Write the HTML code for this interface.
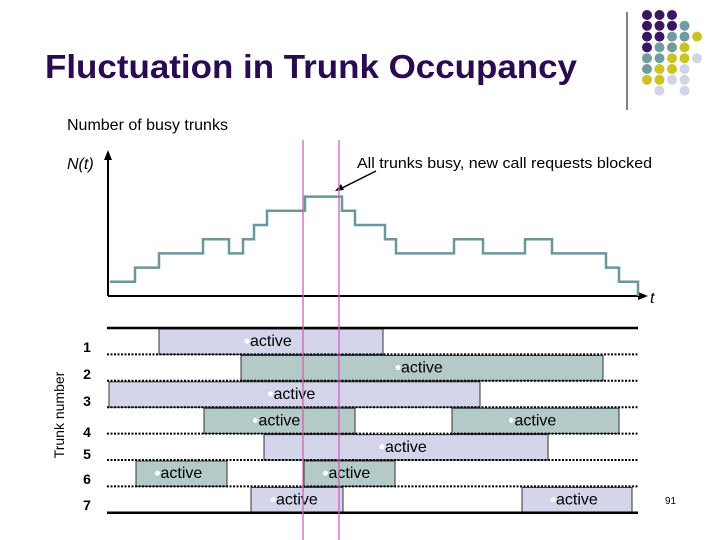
<!DOCTYPE html>
<html><head><meta charset="utf-8"><style>
html,body{margin:0;padding:0;background:#fff}
svg{display:block;font-family:"Liberation Sans",Arial,sans-serif}
</style></head><body>
<svg id="chart" width="720" height="540" viewBox="0 0 720 540">
<text x="45" y="78" font-size="33" font-weight="bold" fill="#2a0a50" textLength="532" lengthAdjust="spacingAndGlyphs">Fluctuation in Trunk Occupancy</text>
<line x1="627" y1="12" x2="627" y2="110" stroke="#000" stroke-width="1"/>
<g id="dots"></g>
<text x="67" y="130" font-size="16" fill="#000">Number of busy trunks</text>
<text x="67" y="169" font-size="16" font-style="italic" fill="#000">N(t)</text>
<text x="357" y="168" font-size="15" fill="#000" textLength="295" lengthAdjust="spacingAndGlyphs">All trunks busy, new call requests blocked</text>
<line x1="376" y1="171" x2="340" y2="189" stroke="#000" stroke-width="1.5"/>
<polygon points="335,191 341,184 344,190" fill="#000"/>
<g id="plot"></g>
<g id="trunks"></g>
<text transform="translate(64,415) rotate(-90)" font-size="14" text-anchor="middle" fill="#000">Trunk number</text>
<text x="665" y="504" font-size="10" fill="#000">91</text>
</svg>
<script>
const stepTimes = [110,135,159,203,229,243,254,267,305,342,355,385,396,454,483,525,552,606,619,638];
const stepLevels = [1,2,3,4,3,4,5,6,7,6,5,4,3,4,3,4,3,2,1,0];
const trunkIds = [1,2,3,4,5,6,7];
const callStarts = [[159],[241],[109],[204,452],[264],[136,304],[251,522]];
const callEnds = [[383],[603],[480],[355,619],[548],[227,395],[343,632]];
const blockedWindow = [303,339];

const NS='http://www.w3.org/2000/svg';
function mk(tag,attrs,parent){const e=document.createElementNS(NS,tag);for(const k in attrs)e.setAttribute(k,attrs[k]);parent.appendChild(e);return e;}
const yN = n => 296 - n*14.2;
const rowTop = i => 328 + i*26.4;
const rowH = 26.4;
const labelCenters = [347,374,401,432,454,479,505];

const P='#3a1560',T='#6f9c9e',Y='#c9c422',L='#d2d3e6';
const dotGrid=[[P,P,P,null,null],[P,P,P,T,null],[P,P,T,T,Y],[P,T,T,Y,null],[T,T,Y,Y,L],[T,Y,Y,L,null],[Y,Y,L,L,null],[null,L,null,L,null]];
const dg=document.getElementById('dots');
dotGrid.forEach((row,r)=>row.forEach((c,ci)=>{if(!c)return;
 const d=mk('circle',{cx:647+ci*12.5,cy:15+r*10.8,r:5,fill:c},dg);
 
 
}));

const plot=document.getElementById('plot');
let ax=mk('line',{x1:108,y1:296,x2:640,y2:296,stroke:'#000','stroke-width':2},plot);


let ah=mk('polygon',{points:'648,296 638,292 638,300',fill:'#000'},plot);


let tl=mk('text',{x:650,y:303,'font-size':16,'font-style':'italic'},plot);tl.textContent='t';


let ay=mk('line',{x1:108,y1:296,x2:108,y2:158,stroke:'#000','stroke-width':2},plot);


let ayh=mk('polygon',{points:'108,150 104,160 112,160',fill:'#000'},plot);


let d='';
for(let i=0;i<stepTimes.length;i++){
 const x=stepTimes[i], y=yN(stepLevels[i]);
 if(i===0) d+='M'+x+','+y; else d+=' H'+x+' V'+y;
}
let line=mk('path',{d:d,fill:'none',stroke:'#6a9898','stroke-width':2.5},plot);



const tg=document.getElementById('trunks');
trunkIds.forEach((id,i)=>{
 callStarts[i].forEach((s,j)=>{
  const e=callEnds[i][j];
  const r=mk('rect',{x:s,y:rowTop(i)+1,width:e-s,height:rowH-1,fill:(i%2===0)?'#d4d4ea':'#b3cac8',stroke:'#333','stroke-width':1},tg);
  
  
  const cx=(s+e)/2;
  const b=mk('circle',{cx:cx-24,cy:rowTop(i)+rowH/2,r:2.5,fill:'#fff'},tg);
  
  
  const t=mk('text',{x:cx-21,y:rowTop(i)+rowH/2+5,'font-size':16,fill:'#000'},tg);
  t.textContent='active';
  
  
 });
 const lab=mk('text',{x:87,y:labelCenters[i]+5,'font-size':14,'font-weight':'bold','text-anchor':'middle'},tg);
 lab.textContent=id;
 
 
});
for(let i=0;i<=trunkIds.length;i++){
 const solid=(i===0||i===trunkIds.length);
 const l=mk('line',{x1:107,y1:rowTop(i),x2:638,y2:rowTop(i),stroke:'#000','stroke-width':solid?2.5:2,'stroke-dasharray':solid?'':'2,1.5'},tg);
 
 
}
blockedWindow.forEach(x=>{
 const l=mk('line',{x1:x,y1:140,x2:x,y2:540,stroke:'#d060c0','stroke-width':1.3},document.getElementById('chart'));
 
 
});
</script>
</body></html>
